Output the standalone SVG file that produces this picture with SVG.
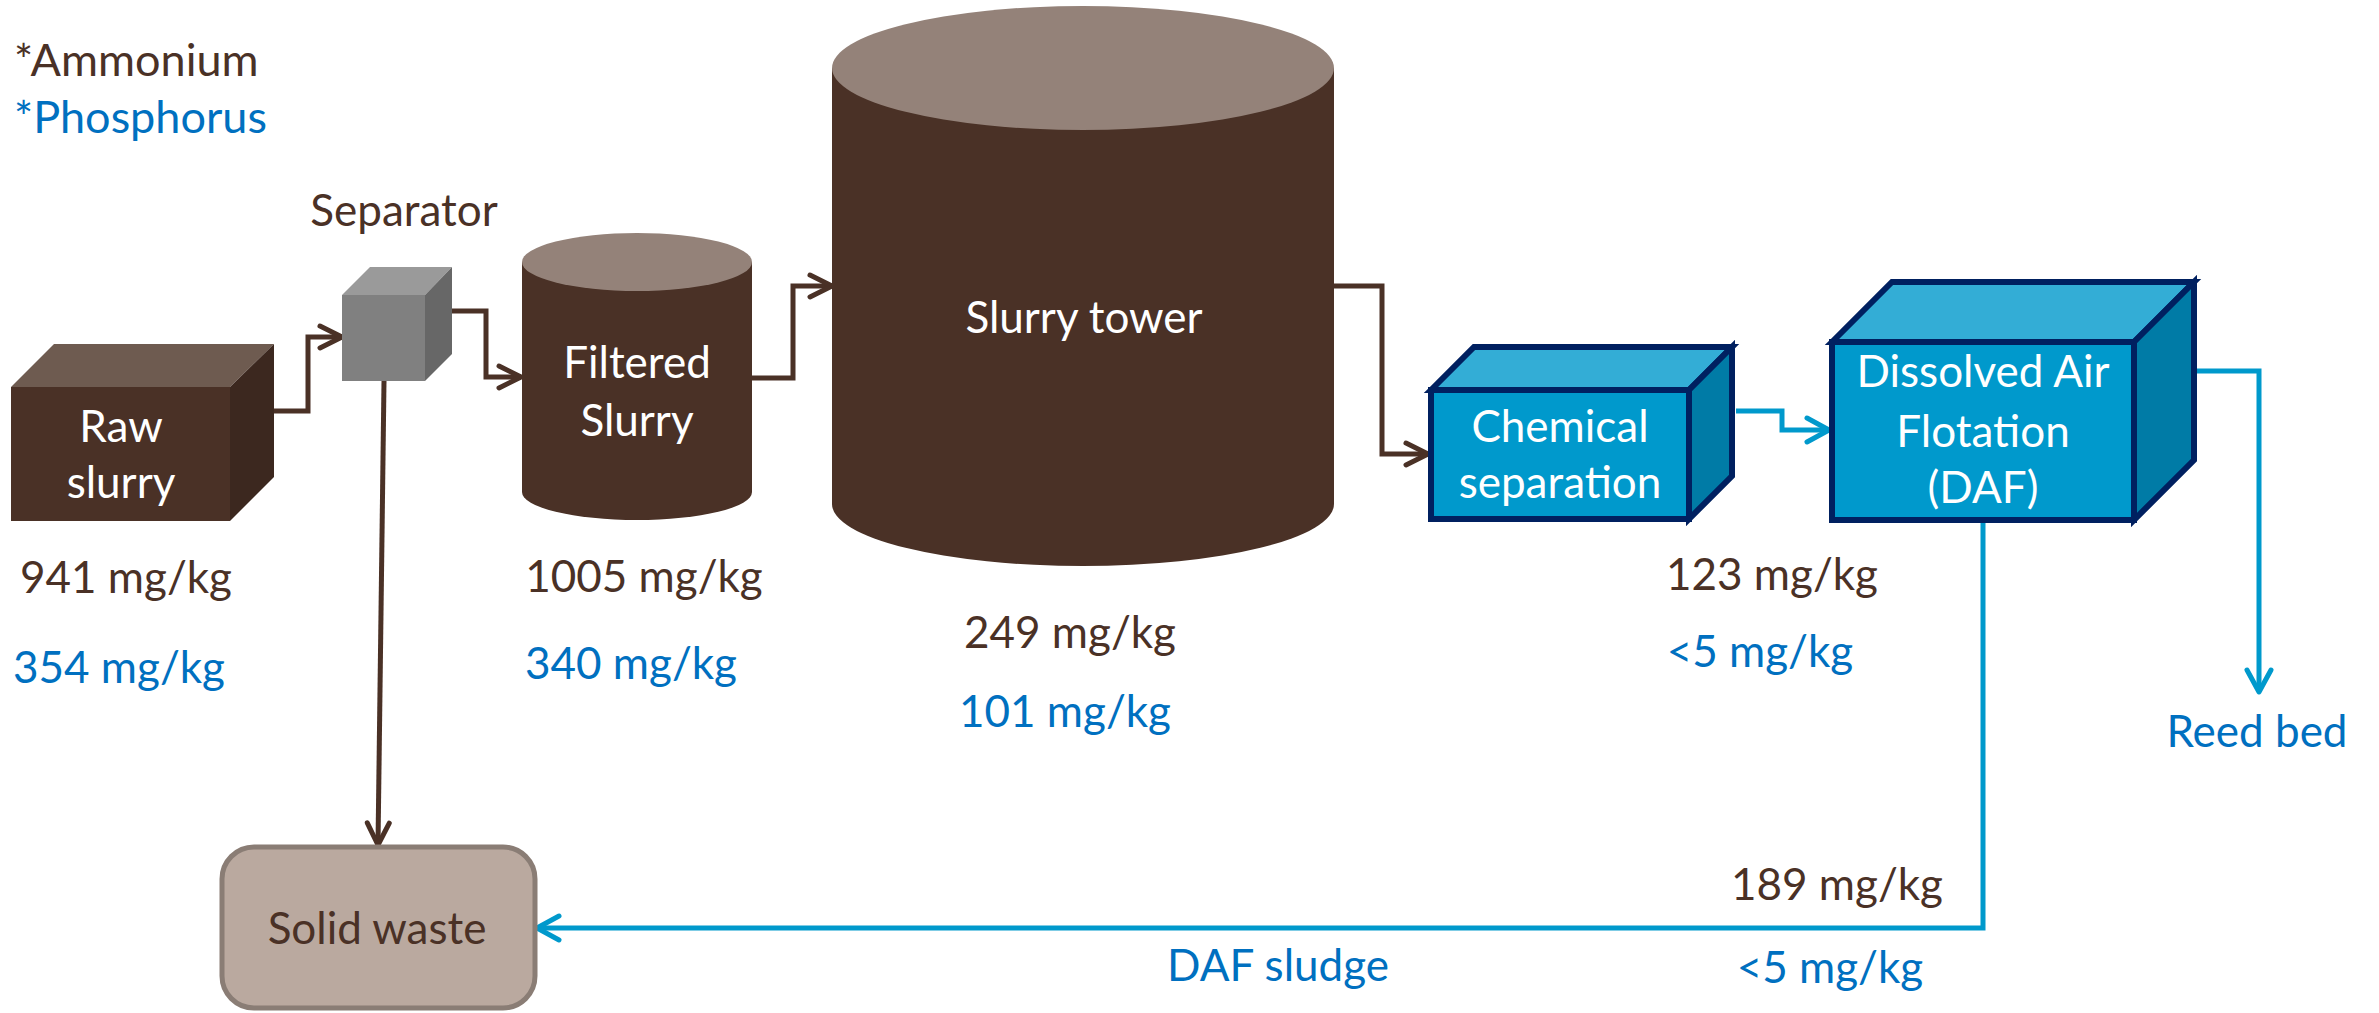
<svg xmlns="http://www.w3.org/2000/svg" width="2379" height="1013" viewBox="0 0 2379 1013">
  <style>
    text { font-family: Lato, "Open Sans", "Liberation Sans", sans-serif; font-size: 44px; }
    .legend { font-size: 45px; }
    .brown { fill: #4A3126; }
    .blue { fill: #0070C0; }
    .white { fill: #FFFFFF; }
    .mid { text-anchor: middle; }
    .wire-b { fill: none; stroke: #4A3126; stroke-width: 5; stroke-linejoin: miter; }
    .wire-c { fill: none; stroke: #0099CC; stroke-width: 5; stroke-linejoin: miter; }
    .tank-body { fill: #4A3126; }
    .tank-lid { fill: #948279; }
    .box-front { fill: #0099CC; stroke: #002060; stroke-width: 6; stroke-linejoin: miter; }
    .box-top { fill: #33ADD6; stroke: #002060; stroke-width: 6; stroke-linejoin: miter; }
    .box-side { fill: #007BA6; stroke: #002060; stroke-width: 6; stroke-linejoin: miter; }
  </style>
  <defs>
    <marker id="head-b" viewBox="0 0 32 32" refX="27" refY="16" markerWidth="32" markerHeight="32" markerUnits="userSpaceOnUse" orient="auto" overflow="visible">
      <path d="M5,5 L27,16 L5,27" fill="none" stroke="#4A3126" stroke-width="5" stroke-linecap="round" stroke-linejoin="round"/>
    </marker>
    <marker id="head-c" viewBox="0 0 32 32" refX="27" refY="16" markerWidth="32" markerHeight="32" markerUnits="userSpaceOnUse" orient="auto" overflow="visible">
      <path d="M5,4 L27,16 L5,28" fill="none" stroke="#0099CC" stroke-width="5" stroke-linecap="round" stroke-linejoin="round"/>
    </marker>
  </defs>

  <rect x="0" y="0" width="2379" height="1013" fill="#FFFFFF"/>

  <!-- legend -->
  <g id="legend">
    <text x="14" y="76" class="brown legend">*Ammonium</text>
    <text x="14" y="133" class="blue legend">*Phosphorus</text>
  </g>

  <!-- connectors -->
  <g id="connectors">
    <path class="wire-b" d="M274,411 H308 V337 H342" marker-end="url(#head-b)"/>
    <path class="wire-b" d="M452,311 H486 V377 H521" marker-end="url(#head-b)"/>
    <path class="wire-b" d="M384,381 L378,845" marker-end="url(#head-b)"/>
    <path class="wire-b" d="M752,378 H793 V286 H832" marker-end="url(#head-b)"/>
    <path class="wire-b" d="M1334,286 H1382 V454 H1428" marker-end="url(#head-b)"/>
    <path class="wire-c" d="M1736,411 H1782 V430 H1829" marker-end="url(#head-c)"/>
    <path class="wire-c" d="M2197,371 H2259 V692" marker-end="url(#head-c)"/>
    <path class="wire-c" d="M1983,523 V928 H537" marker-end="url(#head-c)"/>
  </g>

  <!-- raw slurry store -->
  <g id="raw-slurry">
    <polygon points="11,387 54,344 274,344 230,387" fill="#6E5B50"/>
    <polygon points="230,387 274,344 274,477 230,521" fill="#3C281F"/>
    <rect x="11" y="387" width="219" height="134" fill="#4A3126"/>
    <text x="121" y="442" class="white mid">Raw</text>
    <text x="121" y="498" class="white mid">slurry</text>
    <text x="126" y="593" class="brown mid">941 mg/kg</text>
    <text x="119" y="683" class="blue mid">354 mg/kg</text>
  </g>

  <!-- separator -->
  <g id="separator">
    <polygon points="342,295 370,267 452,267 425,295" fill="#9A9A9A"/>
    <polygon points="425,295 452,267 452,354 425,381" fill="#676767"/>
    <rect x="342" y="295" width="83" height="86" fill="#808080"/>
    <text x="404" y="226" class="brown mid">Separator</text>
  </g>

  <!-- filtered slurry tank -->
  <g id="filtered-slurry">
    <path class="tank-body" d="M522,262 V492 A115,28 0 0 0 752,492 V262 Z"/>
    <ellipse class="tank-lid" cx="637" cy="262" rx="115" ry="29"/>
    <text x="637" y="378" class="white mid">Filtered</text>
    <text x="637" y="436" class="white mid">Slurry</text>
    <text x="644" y="592" class="brown mid">1005 mg/kg</text>
    <text x="631" y="679" class="blue mid">340 mg/kg</text>
  </g>

  <!-- slurry tower -->
  <g id="slurry-tower">
    <path class="tank-body" d="M832,68 V504 A251,62 0 0 0 1334,504 V68 Z"/>
    <ellipse class="tank-lid" cx="1083" cy="68" rx="251" ry="62"/>
    <text x="1084" y="333" class="white mid">Slurry tower</text>
    <text x="1070" y="648" class="brown mid">249 mg/kg</text>
    <text x="1065" y="727" class="blue mid">101 mg/kg</text>
  </g>

  <!-- chemical separation unit -->
  <g id="chemical-separation">
    <polygon class="box-top" points="1431,390 1474,347 1732,347 1689,390"/>
    <polygon class="box-side" points="1689,390 1732,347 1732,476 1689,519"/>
    <rect class="box-front" x="1431" y="390" width="258" height="129"/>
    <text x="1560" y="442" class="white mid">Chemical</text>
    <text x="1560" y="498" class="white mid">separation</text>
    <text x="1772" y="590" class="brown mid">123 mg/kg</text>
    <text x="1760" y="667" class="blue mid">&lt;5 mg/kg</text>
  </g>

  <!-- dissolved air flotation unit -->
  <g id="daf">
    <polygon class="box-top" points="1832,342 1892,282 2194,282 2134,342"/>
    <polygon class="box-side" points="2134,342 2194,282 2194,460 2134,520"/>
    <rect class="box-front" x="1832" y="342" width="302" height="178"/>
    <text x="1983" y="387" class="white mid">Dissolved Air</text>
    <text x="1983" y="447" class="white mid">Flotation</text>
    <text x="1983" y="503" class="white mid">(DAF)</text>
  </g>

  <!-- reed bed outlet -->
  <g id="reed-bed">
    <text x="2257" y="747" class="blue mid">Reed bed</text>
  </g>

  <!-- DAF sludge return -->
  <g id="daf-sludge">
    <text x="1837" y="900" class="brown mid">189 mg/kg</text>
    <text x="1830" y="983" class="blue mid">&lt;5 mg/kg</text>
    <text x="1278" y="981" class="blue mid">DAF sludge</text>
  </g>

  <!-- solid waste -->
  <g id="solid-waste">
    <rect x="222" y="847" width="313" height="161" rx="32" ry="32" fill="#BAA99F" stroke="#8A7D75" stroke-width="5"/>
    <text x="377" y="944" class="brown mid">Solid waste</text>
  </g>
</svg>
